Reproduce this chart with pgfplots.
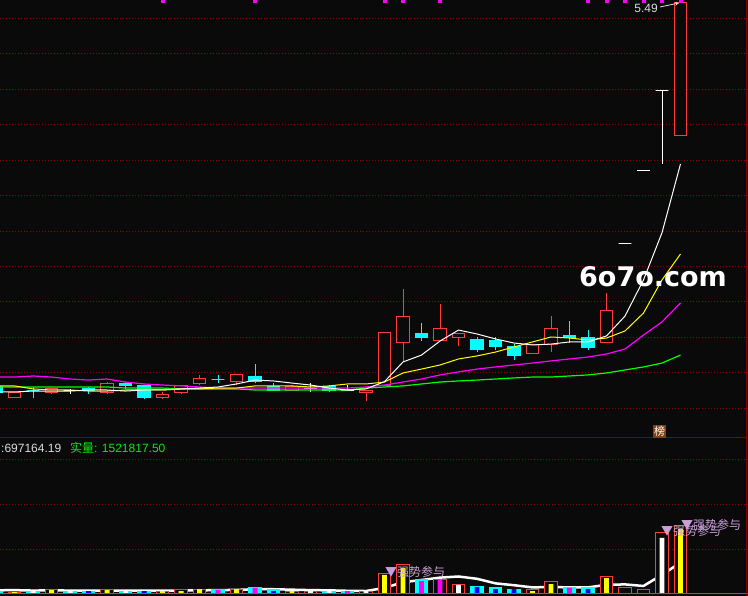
\documentclass[border=0pt]{standalone}
\usepackage{pgfplots}
\pgfplotsset{compat=1.18}
\usepackage{pgfplotstable}
\usetikzlibrary{arrows.meta}
\usepackage{fontspec}
\setmainfont{Liberation Sans}
\newfontfamily\cjk{Noto Sans CJK SC}
\newfontfamily\wm{DejaVu Sans}

\definecolor{bg}{RGB}{10,10,10}
\definecolor{kred}{RGB}{255,60,60}
\definecolor{kcyan}{RGB}{0,255,255}
\definecolor{mag}{RGB}{255,0,255}
\definecolor{yel}{RGB}{255,255,0}
\definecolor{grn}{RGB}{0,255,0}
\definecolor{wht}{RGB}{255,255,255}
\definecolor{gridred}{RGB}{140,0,0}
\definecolor{frame}{RGB}{128,0,0}
\definecolor{lilac}{RGB}{200,160,215}
\definecolor{vblue}{RGB}{0,0,255}
\definecolor{brownbox}{RGB}{128,64,16}
\definecolor{txt}{RGB}{220,220,220}
\definecolor{vgreen}{RGB}{0,240,0}

\pgfplotsset{
  panel/.style={scale only axis, width=748bp, anchor=south west,
    xmin=-20.784, xmax=19.649,
    axis line style={draw=none}, xtick=\empty, yticklabels={},
    major tick length=0pt, ymajorgrids,
    major grid style={gridred, dash pattern=on 1bp off 2bp, line width=0.8bp}},
  upwick/.style={kred, line width=1bp},
  upbox/.style={draw=kred, fill=bg, line width=1bp},
  dnwick/.style={kcyan, line width=1bp},
  dnbox/.style={draw=kcyan, fill=kcyan, line width=1bp},
  eqwick/.style={wht, line width=1bp},
  eqbox/.style={draw=wht, fill=wht, line width=1bp},
  vout/.style={ybar, bar width=0.7, bar shift=0pt, line width=1bp},
  vin/.style={ybar, bar width=0.27, bar shift=0pt, draw=none},
}

% #1 = up / dn / eq, then day, open, high, low, close
\newcommand{\candle}[6]{%
  \pgfmathsetmacro\xl{#2-0.35}\pgfmathsetmacro\xr{#2+0.35}%
  \addplot[#1wick] coordinates {(#2,#5) (#2,#4)};
  \edef\tmp{\noexpand\addplot[#1box] coordinates {(\xl,#3) (\xr,#3) (\xr,#6) (\xl,#6)} --cycle;}%
  \tmp}

% moving averages of the close
\pgfplotstableread{
i ma5 ma10 ma20 ma60
-21 3.292 3.326 3.376 3.320
-20 3.292 3.326 3.376 3.320
-19 3.297 3.309 3.382 3.320
-18 3.297 3.303 3.376 3.320
-17 3.297 3.303 3.365 3.320
-16 3.303 3.297 3.359 3.320
-15 3.303 3.297 3.365 3.320
-14 3.297 3.303 3.348 3.314
-13 3.303 3.303 3.337 3.314
-12 3.303 3.303 3.331 3.314
-11 3.309 3.309 3.326 3.309
-10 3.314 3.309 3.320 3.309
-9 3.320 3.314 3.314 3.309
-8 3.337 3.314 3.314 3.309
-7 3.359 3.326 3.314 3.303
-6 3.354 3.326 3.314 3.303
-5 3.342 3.326 3.314 3.303
-4 3.331 3.320 3.314 3.303
-3 3.314 3.326 3.314 3.303
-2 3.303 3.337 3.314 3.303
-1 3.309 3.337 3.320 3.314
0 3.350 3.348 3.331 3.320
1 3.461 3.399 3.348 3.326
2 3.500 3.421 3.365 3.337
3 3.579 3.444 3.388 3.348
4 3.641 3.478 3.405 3.354
5 3.619 3.495 3.421 3.359
6 3.591 3.517 3.433 3.365
7 3.568 3.546 3.444 3.371
8 3.557 3.574 3.455 3.376
9 3.562 3.602 3.467 3.376
10 3.574 3.596 3.478 3.382
11 3.574 3.585 3.489 3.388
12 3.608 3.596 3.506 3.399
13 3.720 3.636 3.534 3.416
14 3.924 3.737 3.613 3.433
15 4.190 3.924 3.687 3.455
16 4.578 4.070 3.794 3.500
}\malines

% 5-day average volume, millions
\pgfplotstableread{
i v
-21 0.075
-20 0.080
-19 0.070
-18 0.075
-17 0.070
-16 0.070
-15 0.070
-14 0.070
-13 0.070
-12 0.070
-11 0.070
-10 0.075
-9 0.080
-8 0.085
-7 0.100
-6 0.100
-5 0.090
-4 0.080
-3 0.075
-2 0.065
-1 0.060
0 0.130
1 0.257
2 0.307
3 0.360
4 0.385
5 0.334
6 0.231
7 0.190
8 0.141
9 0.150
10 0.141
11 0.141
12 0.199
13 0.208
14 0.173
15 0.423
16 0.697
}\volma

\begin{document}
\begin{tikzpicture}
\fill[bg] (0,0) rectangle (748bp,596bp);

% price panel
\begin{axis}[panel, at={(0,158bp)}, height=438bp, ymin=3.0322, ymax=5.503,
  ytick={3.2,3.4,3.6,3.8,4.0,4.2,4.4,4.6,4.8,5.0,5.2,5.4}]
\candle{dn}{-21}{3.32}{3.33}{3.28}{3.29}
\candle{up}{-20}{3.26}{3.29}{3.26}{3.29}
\candle{dn}{-19}{3.30}{3.32}{3.26}{3.30}
\candle{up}{-18}{3.29}{3.31}{3.28}{3.31}
\candle{eq}{-17}{3.30}{3.31}{3.28}{3.30}
\candle{dn}{-16}{3.31}{3.32}{3.28}{3.30}
\candle{up}{-15}{3.29}{3.35}{3.28}{3.34}
\candle{dn}{-14}{3.34}{3.35}{3.31}{3.33}
\candle{dn}{-13}{3.33}{3.33}{3.25}{3.26}
\candle{up}{-12}{3.26}{3.29}{3.25}{3.28}
\candle{up}{-11}{3.29}{3.33}{3.28}{3.33}
\candle{up}{-10}{3.34}{3.39}{3.33}{3.37}
\candle{dn}{-9}{3.36}{3.39}{3.34}{3.36}
\candle{up}{-8}{3.35}{3.39}{3.33}{3.39}
\candle{dn}{-7}{3.38}{3.45}{3.34}{3.35}
\candle{dn}{-6}{3.32}{3.34}{3.30}{3.30}
\candle{up}{-5}{3.30}{3.33}{3.30}{3.32}
\candle{eq}{-4}{3.31}{3.34}{3.29}{3.31}
\candle{dn}{-3}{3.32}{3.33}{3.29}{3.30}
\candle{eq}{-2}{3.30}{3.33}{3.30}{3.30}
\candle{up}{-1}{3.29}{3.30}{3.24}{3.30}
\candle{up}{0}{3.33}{3.63}{3.33}{3.63}
\candle{up}{1}{3.57}{3.87}{3.46}{3.72}
\candle{dn}{2}{3.62}{3.68}{3.58}{3.60}
\candle{up}{3}{3.58}{3.79}{3.58}{3.65}
\candle{up}{4}{3.60}{3.62}{3.55}{3.62}
\candle{dn}{5}{3.59}{3.60}{3.52}{3.53}
\candle{dn}{6}{3.58}{3.60}{3.53}{3.55}
\candle{dn}{7}{3.55}{3.56}{3.47}{3.50}
\candle{up}{8}{3.51}{3.56}{3.51}{3.56}
\candle{up}{9}{3.56}{3.72}{3.52}{3.65}
\candle{dn}{10}{3.61}{3.69}{3.57}{3.60}
\candle{dn}{11}{3.60}{3.64}{3.53}{3.54}
\candle{up}{12}{3.57}{3.85}{3.57}{3.75}
\candle{eq}{13}{4.13}{4.13}{4.13}{4.13}
\candle{eq}{14}{4.54}{4.54}{4.54}{4.54}
\candle{eq}{15}{4.99}{4.99}{4.58}{4.99}
\candle{up}{16}{4.74}{5.49}{4.74}{5.49}

\addplot[grn, line width=1.2bp] table[x=i, y=ma60] {\malines};
\addplot[mag, line width=1.2bp] table[x=i, y=ma20] {\malines};
\addplot[yel, line width=1bp] table[x=i, y=ma10] {\malines};
\addplot[wht, line width=1bp] table[x=i, y=ma5] {\malines};

% signal marks along the top edge
\addplot[only marks, mark=square*, mark size=1.5bp, mag] coordinates {
  (-12,5.497) (-7,5.497) (0,5.497) (1,5.497) (3,5.497) (11,5.497)
  (12,5.497) (13,5.497) (14,5.497) (15,5.497) (16,5.497)};
\end{axis}

% volume panel, millions
\begin{axis}[panel, at={(0,0)}, height=158bp, ymin=-0.0515, ymax=3.4856,
  ytick={1,2,3}]
\addplot[wht, line width=2.5bp] table[x=i, y=v] {\volma};

\addplot[vout, draw=kred, fill=bg] coordinates {
  (-20,0.038) (-18,0.083) (-15,0.083) (-12,0.060) (-11,0.083) (-10,0.105)
  (-8,0.105) (-5,0.060) (-4,0.060) (-1,0.060) (0,0.463) (1,0.643) (3,0.329)
  (4,0.217) (8,0.083) (9,0.262) (12,0.396) (13,0.128) (14,0.083)
  (15,1.381) (16,1.522)};
\addplot[vout, draw=kcyan, fill=kcyan] coordinates {
  (-21,0.060) (-19,0.060) (-17,0.060) (-16,0.060) (-14,0.060) (-13,0.060)
  (-9,0.083) (-7,0.128) (-6,0.083) (-3,0.060) (-2,0.060) (2,0.307)
  (5,0.172) (6,0.128) (7,0.105) (10,0.128) (11,0.128)};

\addplot[vin, fill=yel] coordinates {
  (-20,0.038) (-18,0.083) (-15,0.083) (-12,0.060) (-11,0.060) (-10,0.105)
  (-8,0.105) (-5,0.060) (0,0.419) (1,0.575) (8,0.060) (9,0.217)
  (12,0.351) (16,1.449)};
\addplot[vin, fill=wht] coordinates {
  (-19,0.060) (-17,0.060) (-14,0.060) (-4,0.060) (-3,0.060) (-1,0.060)
  (4,0.195) (15,1.247)};
\addplot[vin, fill=mag] coordinates {
  (-9,0.083) (-7,0.128) (-2,0.060) (2,0.284) (3,0.307) (10,0.128)};
\addplot[vin, fill=vblue] coordinates {
  (-16,0.060) (-13,0.060) (-6,0.060) (5,0.150) (6,0.105) (7,0.105) (11,0.105)};

\addplot[mag, line width=1bp] coordinates {(-21,0) (20,0)};
\end{axis}

% frame lines
\draw[frame, line width=1bp] (0,158bp) -- (746bp,158bp);
\draw[frame, line width=1.5bp] (746.7bp,0) -- (746.7bp,596bp);

% texts
\node[anchor=east, inner sep=0, text=txt, font=\fontsize{12bp}{12bp}\selectfont]
  at (658bp,588bp) {5.49};
\draw[txt, line width=0.8bp, -{Stealth[length=4bp,width=4bp]}] (660bp,589bp) -- (679bp,593bp);
\node[text=wht, font=\wm\bfseries\fontsize{27bp}{27bp}\selectfont]
  at (653bp,319.5bp) {6o7o.com};
\node[fill=brownbox, text=wht, inner sep=0, minimum size=13bp,
  font=\cjk\fontsize{11bp}{11bp}\selectfont] at (659.5bp,164.5bp) {榜};

\node[anchor=west, inner sep=0, text=txt, font=\fontsize{12bp}{12bp}\selectfont]
  at (1bp,148bp) {:697164.19};
\node[anchor=west, inner sep=0, text=vgreen, font=\fontsize{12bp}{12bp}\selectfont]
  at (70bp,148bp) {{\cjk 实量}: 1521817.50};

\node[anchor=west, inner sep=0, text=lilac, font=\cjk\fontsize{12bp}{12bp}\selectfont]
  at (385bp,24bp) {▼强势参与};
\node[anchor=west, inner sep=0, text=lilac, font=\cjk\fontsize{12bp}{12bp}\selectfont]
  at (661bp,65bp) {▼强势参与};
\node[anchor=west, inner sep=0, text=lilac, font=\cjk\fontsize{12bp}{12bp}\selectfont]
  at (681bp,71bp) {▼强势参与};

\pgfresetboundingbox
\useasboundingbox (0,0) rectangle (748bp,596bp);
\end{tikzpicture}
\end{document}
